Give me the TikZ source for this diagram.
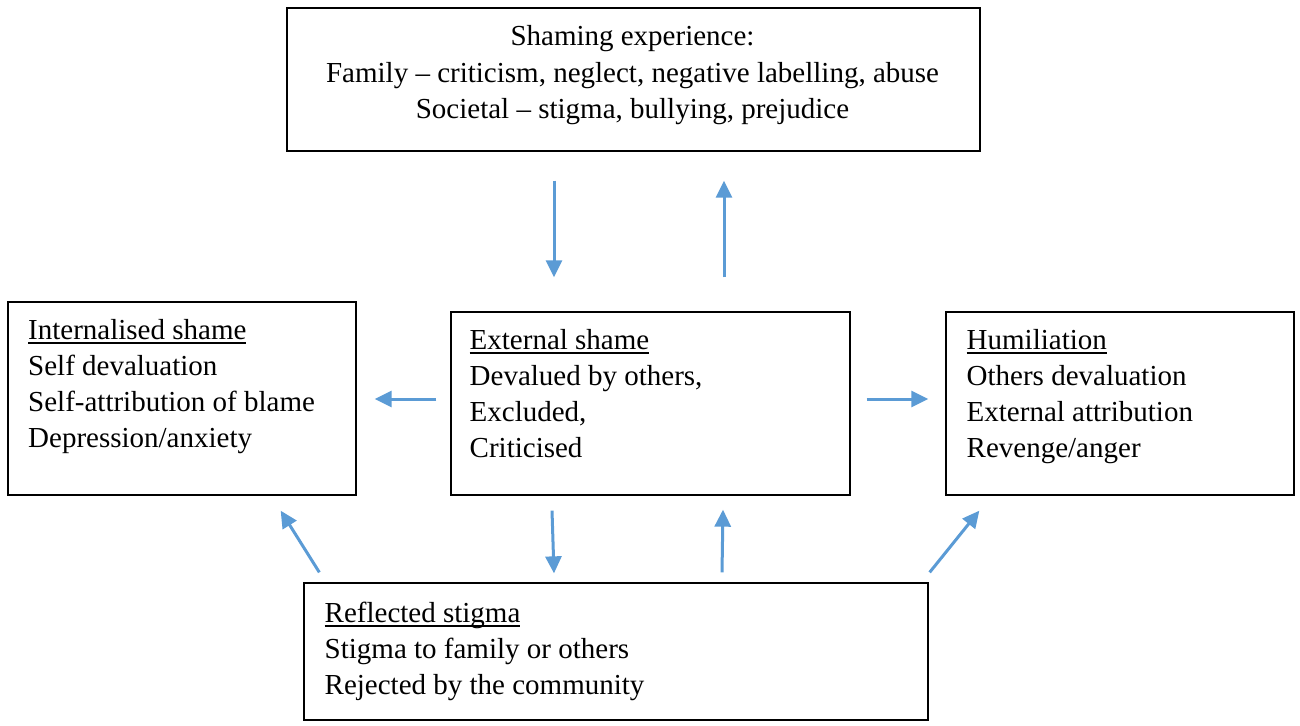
\documentclass[tikz,border=0pt]{standalone}
\usepackage{fontspec}
\setmainfont{Liberation Serif}
\usetikzlibrary{arrows.meta,calc}
\definecolor{arrblue}{RGB}{91,155,213}
\newcommand\myul[1]{\setbox0\hbox{#1}\rlap{\rule[-4.5pt]{\wd0}{1.8pt}}\box0}
\begin{document}
\begin{tikzpicture}[x=1pt,y=-1pt,
  box/.style={draw=black,line width=1.3pt,rectangle,inner sep=0pt},
  txt/.style={inner sep=0pt,font=\fontsize{29}{36}\selectfont},
  arr/.style={draw=arrblue,line width=3pt,-{Triangle[length=17pt,width=16pt]}}]
\useasboundingbox (0,0) rectangle (1300,725);
% boxes
\node[box,minimum width=693pt,minimum height=143pt] (top) at (633.5,79.5) {};
\node[box,minimum width=348pt,minimum height=193pt] (left) at (182,398.5) {};
\node[box,minimum width=399pt,minimum height=183pt] (mid) at (650.5,403.5) {};
\node[box,minimum width=348pt,minimum height=183pt] (right) at (1120,403.5) {};
\node[box,minimum width=624pt,minimum height=137pt] (bottom) at (616,651.5) {};
% texts
\node[txt,anchor=base] (toptxt) at (632.5,46) {\begin{tabular}[t]{@{}c@{}}Shaming experience:\\Family – criticism, neglect, negative labelling, abuse\\Societal – stigma, bullying, prejudice\end{tabular}};
\node[txt,anchor=base west] (lefttxt) at (28,339) {\begin{tabular}[t]{@{}l@{}}\myul{Internalised shame}\\Self devaluation\\Self-attribution of blame\\Depression/anxiety\end{tabular}};
\node[txt,anchor=base west] (midtxt) at (469.5,349) {\begin{tabular}[t]{@{}l@{}}\myul{External shame}\\Devalued by others,\\Excluded,\\Criticised\end{tabular}};
\node[txt,anchor=base west] (righttxt) at (966.5,349) {\begin{tabular}[t]{@{}l@{}}\myul{Humiliation}\\Others devaluation\\External attribution\\Revenge/anger\end{tabular}};
\node[txt,anchor=base west] (bottxt) at (324.5,622) {\begin{tabular}[t]{@{}l@{}}\myul{Reflected stigma}\\Stigma to family or others\\Rejected by the community\end{tabular}};
% arrows
\draw[arr,shorten <=29pt,shorten >=34pt] (top.south -| 554,0) -- (mid.north -| 554,0);
\draw[arr,shorten <=34pt,shorten >=29pt] (mid.north -| 724,0) -- (top.south -| 724,0);
\draw[arr,shorten <=14pt,shorten >=18pt] (mid.west |- 0,399) -- (left.east |- 0,399);
\draw[arr,shorten <=16pt,shorten >=17pt] (mid.east |- 0,399) -- (right.west |- 0,399);
\draw[arr] ($(mid.south -| 552,0)+(0,15)$) -- ($(bottom.north -| 554,0)+(0,-9)$);
\draw[arr] ($(bottom.north -| 722,0)+(0,-10)$) -- ($(mid.south -| 723,0)+(0,14)$);
\draw[arr] ($(bottom.north west)+(16,-10)$) -- ($(left.south east)+(-76,15)$);
\draw[arr] ($(bottom.north east)+(1,-10)$) -- ($(right.south west)+(34,15)$);
\end{tikzpicture}
\end{document}
